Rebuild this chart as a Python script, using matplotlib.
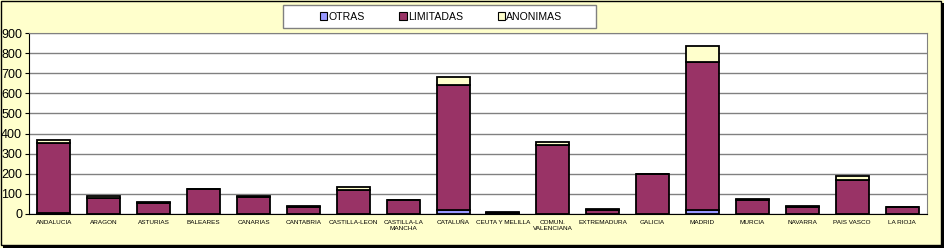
import matplotlib.pyplot as plt
from matplotlib.patches import Rectangle
import numpy as np

regiones = ["ANDALUCIA", "ARAGON", "ASTURIAS", "BALEARES", "CANARIAS", "CANTABRIA",
            "CASTILLA-LEON", "CASTILLA-LA\nMANCHA", "CATALUÑA", "CEUTA Y MELILLA",
            "COMUN.\nVALENCIANA", "EXTREMADURA", "GALICIA", "MADRID", "MURCIA",
            "NAVARRA", "PAIS VASCO", "LA RIOJA"]
otras =     [4, 2, 1, 2, 2, 1, 2, 1, 18, 0, 2, 1, 2, 22, 2, 1, 2, 1]
limitadas = [348, 78, 53, 120, 81, 36, 116, 67, 624, 6, 343, 19, 195, 734, 66, 34, 165, 32]
anonimas =  [14, 8, 4, 4, 8, 4, 16, 3, 41, 2, 15, 5, 3, 80, 8, 3, 20, 3]

c_otras = "#9999FF"
c_lim = "#993366"
c_anon = "#FFFFCC"

fig = plt.figure(figsize=(9.44, 2.48), dpi=100, facecolor=c_anon)
plt.rcParams['font.family'] = ['Liberation Sans', 'DejaVu Sans']

ax = fig.add_axes([29/944, 1 - 214/248, 898/944, 181/248])
ax.set_facecolor("white")

x = np.arange(len(regiones))
o = np.array(otras)
l = np.array(limitadas)
a = np.array(anonimas)
w = 0.66
kw = dict(width=w, edgecolor="black", linewidth=1.3, zorder=3)
ax.bar(x, o, color=c_otras, label="OTRAS", **kw)
ax.bar(x, l, bottom=o, color=c_lim, label="LIMITADAS", **kw)
ax.bar(x, a, bottom=o + l, color=c_anon, label="ANONIMAS", **kw)

ax.set_xlim(-0.5, len(regiones) - 0.5)
ax.set_ylim(0, 900)
ax.set_yticks(range(0, 901, 100))
ax.yaxis.grid(True, color="#808080", linewidth=1)
ax.set_axisbelow(True)
ax.tick_params(axis="y", labelsize=9, length=3, pad=2)
ax.set_xticks(x)
ax.set_xticklabels(regiones, fontsize=4.6, linespacing=1.3)
ax.tick_params(axis="x", length=0, pad=4)
for s in ax.spines.values():
    s.set_color("#808080")
ax.spines["left"].set_color("black")
ax.spines["bottom"].set_color("black")

# caja de la leyenda
fig.patches.append(Rectangle((283/944, 1 - 28/248), 313/944, 23/248, transform=fig.transFigure,
                             facecolor="white", edgecolor="#808080", linewidth=1, zorder=1))
leg = fig.legend(loc="center", ncol=3, bbox_to_anchor=(441/944, 1 - 16.5/248),
                 fontsize=7.6, frameon=False,
                 handlelength=0.7, handleheight=0.7, handletextpad=0.1,
                 columnspacing=3.3, borderpad=0.2)
for h in leg.legend_handles:
    h.set_linewidth(0.8)

# marco exterior con sombra
fig.patches.append(Rectangle((3/944, 0), 941/944, 245/248, transform=fig.transFigure,
                             facecolor="black", edgecolor="none", zorder=-2))
fig.patches.append(Rectangle((0.5/944, 3/248), 940/944, 244.5/248, transform=fig.transFigure,
                             facecolor=c_anon, edgecolor="black", linewidth=1, zorder=-1))

fig.savefig("out.png", dpi=100, facecolor=c_anon)
